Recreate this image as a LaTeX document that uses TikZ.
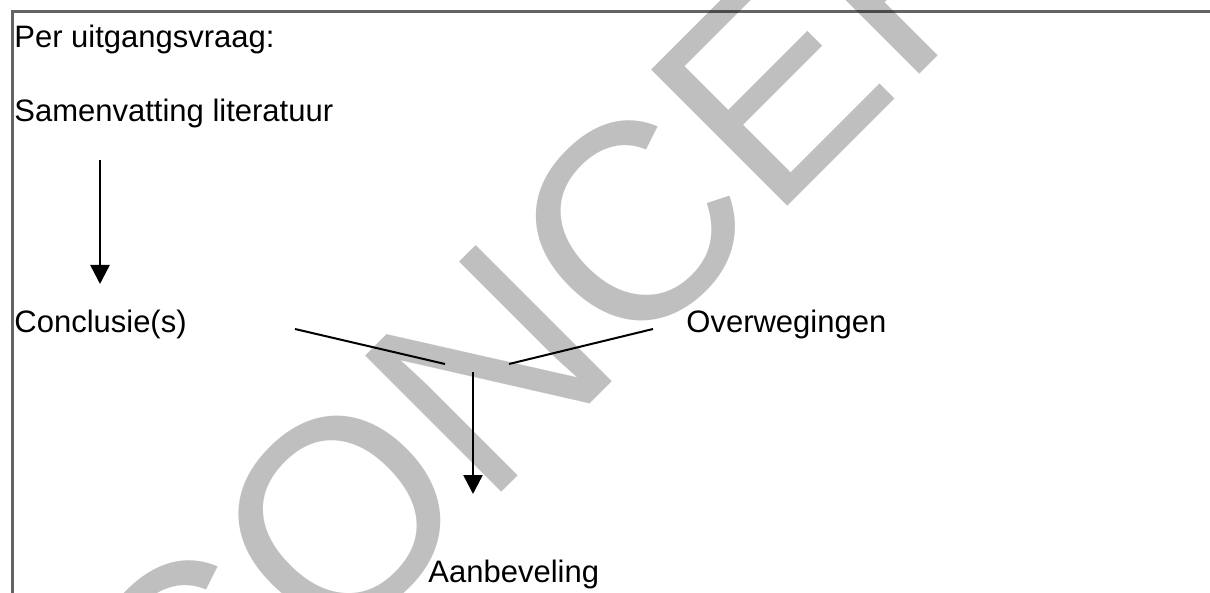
\documentclass[tikz,border=0pt]{standalone}
\usepackage{fontspec}
\setmainfont{Liberation Sans}
\usetikzlibrary{arrows.meta}
\begin{document}
\begin{tikzpicture}[x=0.5pt,y=-0.5pt,
  lbl/.style={anchor=base west,inner sep=0pt,font=\fontsize{15.5}{18}\selectfont},
  arr/.style={line width=1.25pt,-{Triangle[length=9.5pt,width=9.5pt]}},
  link/.style={line width=1pt},
  frame/.style={line width=1.5pt,draw={rgb,255:red,100;green,100;blue,100}},
  wm/.style={anchor=base west,inner sep=0pt,rotate=45,text opacity=0.25,font=\fontsize{140}{140}\selectfont}]
\useasboundingbox (0,0) rectangle (1210,593);
\clip (0,0) rectangle (1210,593);
% frame
\coordinate (fbl) at (12,600);
\coordinate (ftl) at (12,12);
\coordinate (ftr) at (1215,12);
\draw[frame] (fbl) -- (ftl) -- (ftr);
% texts
\node[lbl] (per) at (14,48) {Per uitgangsvraag:};
\node[lbl] (sam) at (14,122) {Samenvatting literatuur};
\node[lbl] (conc) at (14,332) {Conclusie(s)};
\node[lbl] (overw) at (686,333) {Overwegingen};
\node[lbl] (aanb) at (428,582) {Aanbeveling};
% connectors
\coordinate (a1s) at (100,160);
\coordinate (a1e) at (100,284);
\draw[arr] (a1s) -- (a1e);
\coordinate (l1s) at (295,329);
\coordinate (l1e) at (445,364);
\draw[link] (l1s) -- (l1e);
\coordinate (l2s) at (653,329);
\coordinate (l2e) at (509,364);
\draw[link] (l2s) -- (l2e);
\coordinate (a2s) at (473,372);
\coordinate (a2e) at (473,494);
\draw[arr] (a2s) -- (a2e);
% watermark
\node[wm] (wmark) at (188,806) {CONCEPT};
\end{tikzpicture}
\end{document}
